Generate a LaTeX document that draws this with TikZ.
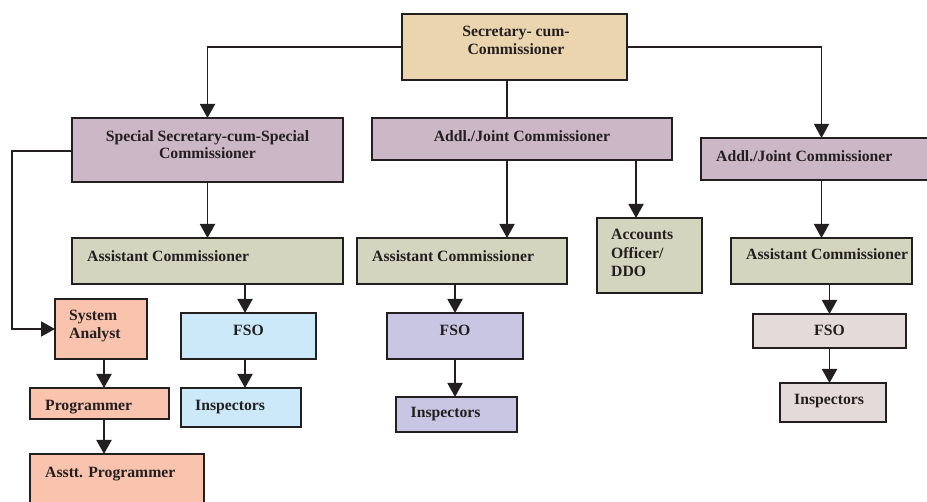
\documentclass[tikz,border=0pt]{standalone}
\usepackage{fontspec}
\setmainfont{Liberation Serif}
\usetikzlibrary{arrows.meta}
\definecolor{ink}{HTML}{231F20}
\definecolor{ctan}{HTML}{EBD5AE}
\definecolor{cpurp}{HTML}{CBB7C5}
\definecolor{cgreen}{HTML}{D3D5BE}
\definecolor{csalmon}{HTML}{F9C3AD}
\definecolor{cblue}{HTML}{CBE9F9}
\definecolor{clav}{HTML}{C9C6E3}
\definecolor{cpink}{HTML}{E4DAD9}
\tikzset{
  box/.style={draw=ink, line width=1.9pt, inner sep=0pt, outer sep=0pt, anchor=north west},
  txt/.style={inner sep=0pt, font=\fontsize{15.7}{18}\selectfont\bfseries, text=ink},
  conn/.style={draw=ink, line width=1.9pt},
  arr/.style={conn, -{Triangle[width=15pt,length=14pt]}},
  thinarr/.style={draw=ink, line width=1.1pt, -{Triangle[width=15pt,length=14pt]}}
}
\begin{document}
\begin{tikzpicture}[x=1pt,y=-1pt]
\useasboundingbox (0,0) rectangle (927,502);
% boxes
\node[box, fill=ctan, minimum width=225, minimum height=66] (sec) at (402,14) {};
\node[box, fill=cpurp, minimum width=271, minimum height=64] (ss) at (72,118) {};
\node[box, fill=cpurp, minimum width=300, minimum height=42] (a2) at (372,118) {};
\node[box, fill=cpurp, minimum width=230, minimum height=42] (a3) at (701,138) {};
\node[box, fill=cgreen, minimum width=271, minimum height=46] (ac1) at (72,238) {};
\node[box, fill=cgreen, minimum width=210, minimum height=46] (ac2) at (357,238) {};
\node[box, fill=cgreen, minimum width=105, minimum height=75] (acc) at (597,218) {};
\node[box, fill=cgreen, minimum width=181, minimum height=46] (ac3) at (731,238) {};
\node[box, fill=csalmon, minimum width=92, minimum height=60] (sa) at (55,299) {};
\node[box, fill=csalmon, minimum width=139, minimum height=31] (prog) at (30,388) {};
\node[box, fill=csalmon, minimum width=174, minimum height=60] (ap) at (30,454) {};
\node[box, fill=cblue, minimum width=135, minimum height=46] (fso1) at (181,313) {};
\node[box, fill=cblue, minimum width=120, minimum height=39] (in1) at (181,388) {};
\node[box, fill=clav, minimum width=136, minimum height=46] (fso2) at (387,313) {};
\node[box, fill=clav, minimum width=121, minimum height=35] (in2) at (396,397) {};
\node[box, fill=cpink, minimum width=153, minimum height=34] (fso3) at (753,314) {};
\node[box, fill=cpink, minimum width=106, minimum height=39] (in3) at (780,383) {};
% texts
\node[txt, anchor=base] (tsec1) at (516,37) {Secretary- cum-};
\node[txt, anchor=base] (tsec2) at (516,55) {Commissioner};
\node[txt, anchor=base] (tss1) at (207.5,141.5) {Special Secretary-cum-Special};
\node[txt, anchor=base] (tss2) at (207.5,159) {Commissioner};
\node[txt, anchor=base] (ta2) at (522,142) {Addl./Joint Commissioner};
\node[txt, anchor=base west] (ta3) at (716,162) {Addl./Joint Commissioner};
\node[txt, anchor=base west] (tac1) at (87,261.5) {Assistant Commissioner};
\node[txt, anchor=base west] (tac2) at (372,261.5) {Assistant Commissioner};
\node[txt, anchor=base west] (tac3) at (746,260) {Assistant Commissioner};
\node[txt, anchor=base west] (tacc1) at (611,240) {Accounts};
\node[txt, anchor=base west] (tacc2) at (611,258.5) {Officer/};
\node[txt, anchor=base west] (tacc3) at (611,277) {DDO};
\node[txt, anchor=base west] (tsa1) at (69,321) {System};
\node[txt, anchor=base west] (tsa2) at (69,339) {Analyst};
\node[txt, anchor=base west] (tprog) at (45,410.5) {Programmer};
\node[txt, anchor=base west] (tap) at (45,477.5) {Asstt. Programmer};
\node[txt, anchor=base] (tfso1) at (248.5,335.5) {FSO};
\node[txt, anchor=base west] (tin1) at (195,411) {Inspectors};
\node[txt, anchor=base] (tfso2) at (455,335.5) {FSO};
\node[txt, anchor=base west] (tin2) at (410.5,418) {Inspectors};
\node[txt, anchor=base] (tfso3) at (829.5,335.5) {FSO};
\node[txt, anchor=base west] (tin3) at (794,405) {Inspectors};
% connectors
\coordinate (lft) at (12,151);
\draw[arr] (sec.west) -| (ss.north);
\draw[thinarr] (sec.east) -| (ac3.north |- a3.north);
\draw[conn] ([xshift=-7.5pt]sec.south) -- ([xshift=-7.5pt]sec.south |- a2.north);
\draw[arr] (ss.south) -- (ac1.north);
\draw[arr] (ss.west |- lft) -- (lft) |- (sa.west);
\draw[arr] ([xshift=-15pt]a2.south) -- ([xshift=-15pt]a2.south |- ac2.north);
\draw[arr] ([xshift=-13.5pt]acc.north |- a2.south) -- ([xshift=-13.5pt]acc.north);
\draw[arr] (ac3.north |- a3.south) -- (ac3.north);
\draw[arr] ([xshift=-3.5pt]fso1.north |- ac1.south) -- ([xshift=-3.5pt]fso1.north);
\draw[arr] ([xshift=-3.5pt]fso1.south) -- ([xshift=-3.5pt]fso1.south |- in1.north);
\draw[arr] ([xshift=3pt]sa.south) -- ([xshift=3pt]sa.south |- prog.north);
\draw[arr] ([xshift=3pt]sa.south |- prog.south) -- ([xshift=3pt]sa.south |- ap.north);
\draw[arr] (fso2.north |- ac2.south) -- (fso2.north);
\draw[arr] (fso2.south) -- (fso2.south |- in2.north);
\draw[arr] (fso3.north |- ac3.south) -- (fso3.north);
\draw[arr] (fso3.south) -- (fso3.south |- in3.north);
\end{tikzpicture}
\end{document}
